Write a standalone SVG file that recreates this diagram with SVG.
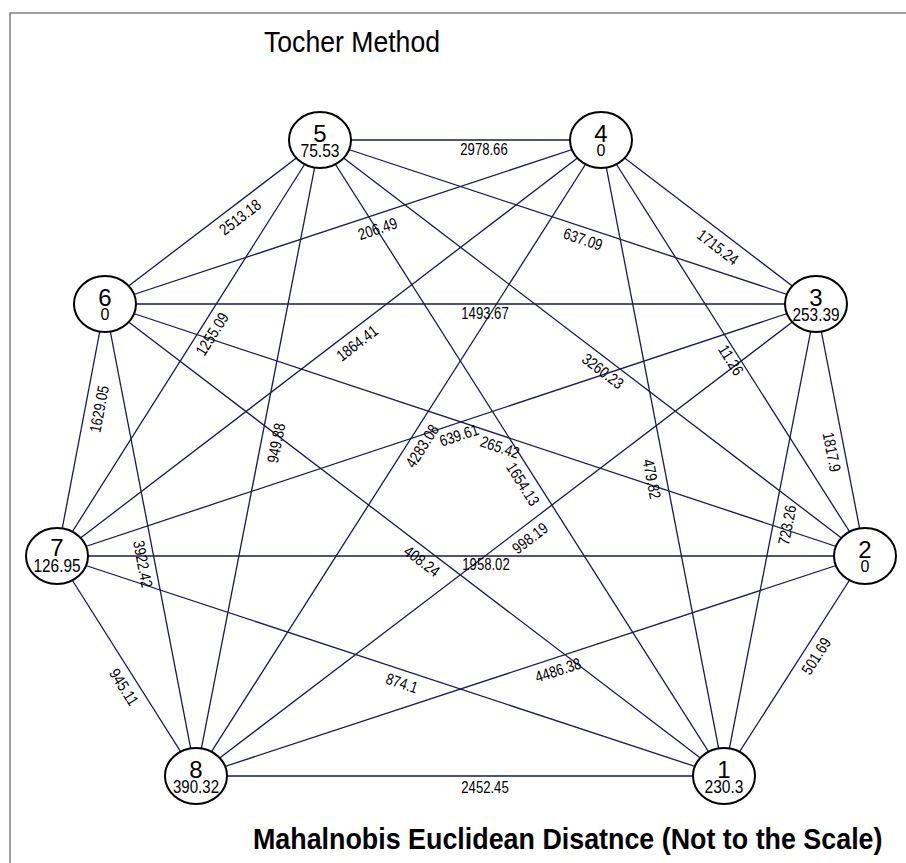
<svg xmlns="http://www.w3.org/2000/svg" width="906" height="863" viewBox="0 0 906 863">
<style>
.bg{fill:#ffffff}
.border{stroke:#808080;stroke-width:1.5;fill:none}
.edge{stroke:#191955;stroke-width:1.3;fill:none}
.node ellipse{fill:#ffffff;stroke:#000000;stroke-width:2}
text{font-family:"Liberation Sans Narrow","Liberation Sans",Arial,sans-serif;fill:#000000}
.num{font-family:"Liberation Sans",Arial,sans-serif;font-size:24px;text-anchor:middle}
.val{font-size:19px;text-anchor:middle}
.zero{font-family:"Liberation Sans",Arial,sans-serif;font-size:16px;text-anchor:middle}
.lbl{font-size:16px;text-anchor:middle}
.title{font-size:30px}
.foot{font-family:"Liberation Sans",Arial,sans-serif;font-size:29px;font-weight:bold}
</style>
<rect class="bg" x="0" y="0" width="906" height="863"/>
<path class="border" d="M10,863 V13 H906"/>
<text class="title" x="264" y="52" textLength="176" lengthAdjust="spacingAndGlyphs">Tocher Method</text>
<g id="connectors">
<line class="edge" x1="724" y1="776" x2="865" y2="556"/>
<line class="edge" x1="724" y1="776" x2="816" y2="304"/>
<line class="edge" x1="724" y1="776" x2="601" y2="140"/>
<line class="edge" x1="724" y1="776" x2="320" y2="140"/>
<line class="edge" x1="724" y1="776" x2="105" y2="304"/>
<line class="edge" x1="724" y1="776" x2="57" y2="556"/>
<line class="edge" x1="724" y1="776" x2="196" y2="776"/>
<line class="edge" x1="865" y1="556" x2="816" y2="304"/>
<line class="edge" x1="865" y1="556" x2="601" y2="140"/>
<line class="edge" x1="865" y1="556" x2="320" y2="140"/>
<line class="edge" x1="865" y1="556" x2="105" y2="304"/>
<line class="edge" x1="865" y1="556" x2="57" y2="556"/>
<line class="edge" x1="865" y1="556" x2="196" y2="776"/>
<line class="edge" x1="816" y1="304" x2="601" y2="140"/>
<line class="edge" x1="816" y1="304" x2="320" y2="140"/>
<line class="edge" x1="816" y1="304" x2="105" y2="304"/>
<line class="edge" x1="816" y1="304" x2="57" y2="556"/>
<line class="edge" x1="816" y1="304" x2="196" y2="776"/>
<line class="edge" x1="601" y1="140" x2="320" y2="140"/>
<line class="edge" x1="601" y1="140" x2="105" y2="304"/>
<line class="edge" x1="601" y1="140" x2="57" y2="556"/>
<line class="edge" x1="601" y1="140" x2="196" y2="776"/>
<line class="edge" x1="320" y1="140" x2="105" y2="304"/>
<line class="edge" x1="320" y1="140" x2="57" y2="556"/>
<line class="edge" x1="320" y1="140" x2="196" y2="776"/>
<line class="edge" x1="105" y1="304" x2="57" y2="556"/>
<line class="edge" x1="105" y1="304" x2="196" y2="776"/>
<line class="edge" x1="57" y1="556" x2="196" y2="776"/>
<g id="edge-labels">
<text class="lbl" transform="translate(816,656) rotate(-57.3)" y="5.7" textLength="40.1" lengthAdjust="spacingAndGlyphs">501.69</text>
<text class="lbl" transform="translate(787,525) rotate(-79)" y="5.7" textLength="40.1" lengthAdjust="spacingAndGlyphs">723.26</text>
<text class="lbl" transform="translate(652,479) rotate(79)" y="5.7" textLength="40.1" lengthAdjust="spacingAndGlyphs">479.82</text>
<text class="lbl" transform="translate(523,484) rotate(57.6)" y="5.7" textLength="47.4" lengthAdjust="spacingAndGlyphs">1654.13</text>
<text class="lbl" transform="translate(422,561) rotate(37.3)" y="5.7" textLength="40.1" lengthAdjust="spacingAndGlyphs">408.24</text>
<text class="lbl" transform="translate(402,683) rotate(18.3)" y="5.7" textLength="32.8" lengthAdjust="spacingAndGlyphs">874.1</text>
<text class="lbl" transform="translate(485,787) rotate(0)" y="5.7" textLength="47.4" lengthAdjust="spacingAndGlyphs">2452.45</text>
<text class="lbl" transform="translate(832,452) rotate(79)" y="5.7" textLength="40.1" lengthAdjust="spacingAndGlyphs">1817.9</text>
<text class="lbl" transform="translate(731,360) rotate(57.6)" y="5.7" textLength="32.8" lengthAdjust="spacingAndGlyphs">11.26</text>
<text class="lbl" transform="translate(603,371) rotate(37.4)" y="5.7" textLength="47.4" lengthAdjust="spacingAndGlyphs">3260.23</text>
<text class="lbl" transform="translate(500,447) rotate(18.3)" y="5.7" textLength="40.1" lengthAdjust="spacingAndGlyphs">265.42</text>
<text class="lbl" transform="translate(486,564) rotate(0)" y="5.7" textLength="47.4" lengthAdjust="spacingAndGlyphs">1958.02</text>
<text class="lbl" transform="translate(558,670) rotate(-18.2)" y="5.7" textLength="47.4" lengthAdjust="spacingAndGlyphs">4486.38</text>
<text class="lbl" transform="translate(718,247) rotate(37.3)" y="5.7" textLength="47.4" lengthAdjust="spacingAndGlyphs">1715.24</text>
<text class="lbl" transform="translate(583,239) rotate(18.3)" y="5.7" textLength="40.1" lengthAdjust="spacingAndGlyphs">637.09</text>
<text class="lbl" transform="translate(485,313) rotate(0)" y="5.7" textLength="47.4" lengthAdjust="spacingAndGlyphs">1493.67</text>
<text class="lbl" transform="translate(459,435) rotate(-18.4)" y="5.7" textLength="40.1" lengthAdjust="spacingAndGlyphs">639.61</text>
<text class="lbl" transform="translate(530,538) rotate(-37.3)" y="5.7" textLength="40.1" lengthAdjust="spacingAndGlyphs">998.19</text>
<text class="lbl" transform="translate(484,149) rotate(0)" y="5.7" textLength="47.4" lengthAdjust="spacingAndGlyphs">2978.66</text>
<text class="lbl" transform="translate(377.5,228.5) rotate(-18.3)" y="5.7" textLength="40.1" lengthAdjust="spacingAndGlyphs">206.49</text>
<text class="lbl" transform="translate(357,343) rotate(-37.4)" y="5.7" textLength="47.4" lengthAdjust="spacingAndGlyphs">1864.41</text>
<text class="lbl" transform="translate(422,446) rotate(-57.5)" y="5.7" textLength="47.4" lengthAdjust="spacingAndGlyphs">4283.08</text>
<text class="lbl" transform="translate(240,217) rotate(-37.3)" y="5.7" textLength="47.4" lengthAdjust="spacingAndGlyphs">2513.18</text>
<text class="lbl" transform="translate(212,334) rotate(-57.7)" y="5.7" textLength="47.4" lengthAdjust="spacingAndGlyphs">1255.09</text>
<text class="lbl" transform="translate(276,443) rotate(-79)" y="5.7" textLength="40.1" lengthAdjust="spacingAndGlyphs">949.88</text>
<text class="lbl" transform="translate(99,409) rotate(-79.2)" y="5.7" textLength="47.4" lengthAdjust="spacingAndGlyphs">1629.05</text>
<text class="lbl" transform="translate(143,564) rotate(79.1)" y="5.7" textLength="47.4" lengthAdjust="spacingAndGlyphs">3922.42</text>
<text class="lbl" transform="translate(124,687) rotate(57.7)" y="5.7" textLength="40.1" lengthAdjust="spacingAndGlyphs">945.11</text>
</g>
</g>
<g id="node-1" class="node"><ellipse cx="724" cy="776" rx="31" ry="28"/><text class="num" x="724" y="777.5">1</text><text class="val" x="724" y="793" textLength="39" lengthAdjust="spacingAndGlyphs">230.3</text></g>
<g id="node-2" class="node"><ellipse cx="865" cy="556" rx="31" ry="28"/><text class="num" x="865" y="557.5">2</text><text class="zero" x="865" y="572">0</text></g>
<g id="node-3" class="node"><ellipse cx="816" cy="304" rx="31" ry="28"/><text class="num" x="816" y="305.5">3</text><text class="val" x="816" y="321" textLength="47" lengthAdjust="spacingAndGlyphs">253.39</text></g>
<g id="node-4" class="node"><ellipse cx="601" cy="140" rx="31" ry="28"/><text class="num" x="601" y="141.5">4</text><text class="zero" x="601" y="156">0</text></g>
<g id="node-5" class="node"><ellipse cx="320" cy="140" rx="31" ry="28"/><text class="num" x="320" y="141.5">5</text><text class="val" x="320" y="157" textLength="39" lengthAdjust="spacingAndGlyphs">75.53</text></g>
<g id="node-6" class="node"><ellipse cx="105" cy="304" rx="31" ry="28"/><text class="num" x="105" y="305.5">6</text><text class="zero" x="105" y="320">0</text></g>
<g id="node-7" class="node"><ellipse cx="57" cy="556" rx="31" ry="28"/><text class="num" x="57" y="556">7</text><text class="val" x="57" y="572" textLength="47" lengthAdjust="spacingAndGlyphs">126.95</text></g>
<g id="node-8" class="node"><ellipse cx="196" cy="776" rx="31" ry="28"/><text class="num" x="196" y="777.5">8</text><text class="val" x="196" y="793" textLength="46" lengthAdjust="spacingAndGlyphs">390.32</text></g>
<text class="foot" transform="translate(253,849) scale(0.926,1)">Mahalnobis Euclidean Disatnce (Not to the Scale)</text>
</svg>
